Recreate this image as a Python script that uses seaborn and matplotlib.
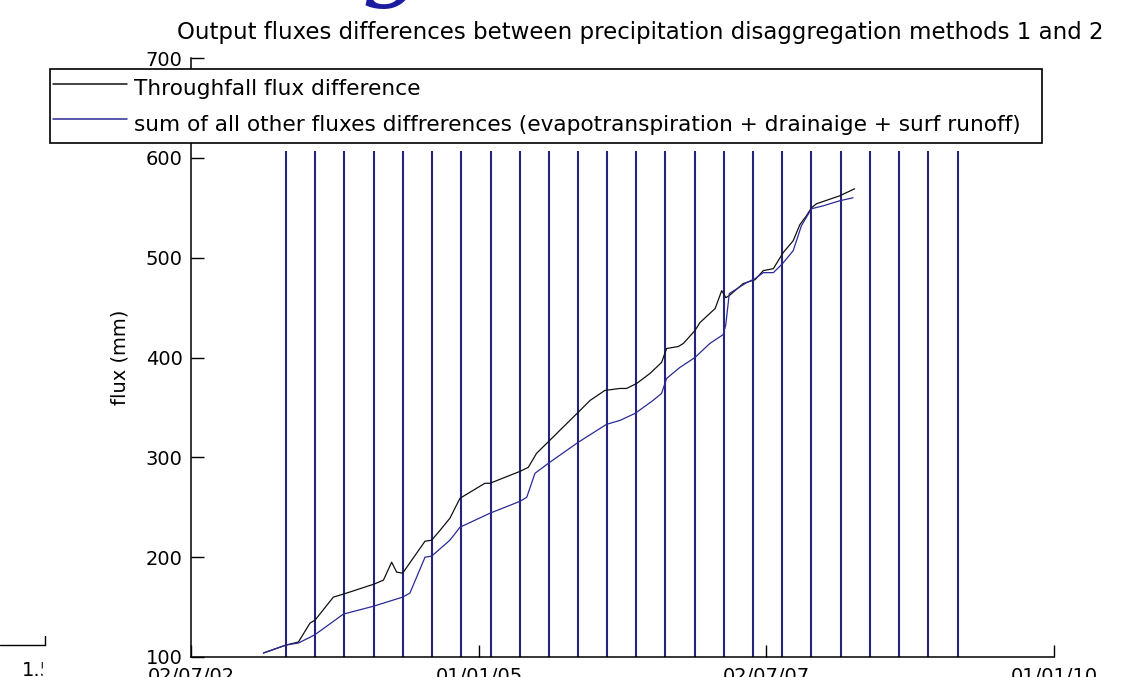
import matplotlib
matplotlib.use("Agg")
import matplotlib.pyplot as plt
import matplotlib.dates as mdates
from matplotlib.patches import Rectangle
import pandas as pd
import seaborn as sns

# ---- Data ----
THROUGH_DATES = [
    "2003-02-17", "2003-04-30", "2003-06-08", "2003-07-15", "2003-07-31",
    "2003-09-27", "2003-10-29", "2004-02-03", "2004-03-04", "2004-03-30",
    "2004-04-15", "2004-05-04", "2004-07-14", "2004-08-04", "2004-08-31",
    "2004-10-01", "2004-11-02", "2005-01-20", "2005-02-05", "2005-05-12",
    "2005-06-07", "2005-07-03", "2005-08-14", "2005-09-15", "2005-11-12",
    "2005-12-20", "2006-02-05", "2006-03-25", "2006-04-15", "2006-05-17",
    "2006-06-28", "2006-08-04", "2006-08-20", "2006-09-26", "2006-10-12",
    "2006-11-18", "2006-12-04", "2007-01-21", "2007-02-11", "2007-02-24",
    "2007-03-07", "2007-04-20", "2007-05-28", "2007-06-23", "2007-07-25",
    "2007-08-25", "2007-09-26", "2007-10-17", "2007-11-07", "2007-11-23",
    "2007-12-09", "2008-02-21", "2008-04-08",
]
THROUGH_FLUX = [
    104, 112, 115, 134, 137,
    160, 163, 173, 177, 195,
    185, 184, 216, 217, 227,
    239, 259, 274, 274, 286,
    290, 304, 317, 327, 345,
    357, 367, 369, 369, 374,
    384, 395, 409, 411, 414,
    427, 435, 449, 467, 460,
    462, 474, 478, 487, 489,
    505, 517, 533, 542, 550,
    554, 562, 569,
]

OTHER_DATES = [
    "2003-02-17", "2003-04-30", "2003-06-08", "2003-07-29", "2003-10-29",
    "2004-02-03", "2004-05-04", "2004-05-27", "2004-07-14", "2004-08-04",
    "2004-10-01", "2004-11-02", "2005-02-05", "2005-05-12", "2005-06-02",
    "2005-06-28", "2005-08-14", "2005-11-12", "2006-02-10", "2006-03-25",
    "2006-05-12", "2006-07-08", "2006-08-04", "2006-08-20", "2006-10-01",
    "2006-11-18", "2007-01-04", "2007-02-16", "2007-02-24", "2007-03-07",
    "2007-05-01", "2007-05-28", "2007-06-23", "2007-07-25", "2007-08-23",
    "2007-09-05", "2007-09-26", "2007-10-22", "2007-11-23", "2007-12-31",
    "2008-02-21", "2008-04-03",
]
OTHER_FLUX = [
    104, 112, 114, 122, 143,
    151, 160, 164, 200, 201,
    217, 230, 244, 256, 260,
    284, 295, 315, 333, 337,
    344, 357, 364, 379, 390,
    400, 414, 423, 433, 464,
    475, 479, 485, 485, 494,
    499, 507, 532, 549, 552,
    557, 560,
]

# vertical marker lines (roughly quarterly)
MARKER_DATES = [
    "2003-04-30", "2003-07-31", "2003-11-01", "2004-02-02", "2004-05-04",
    "2004-08-05", "2004-11-06", "2005-02-07", "2005-05-10", "2005-08-11",
    "2005-11-11", "2006-02-12", "2006-05-16", "2006-08-16", "2006-11-17",
    "2007-02-18", "2007-05-22", "2007-08-22", "2007-11-23", "2008-02-24",
    "2008-05-27", "2008-08-27", "2008-11-28", "2009-03-01",
]
MARKER_RANGE = [100, 607]

X_TICKS = ["2002-07-02", "2005-01-01", "2007-07-02", "2010-01-01"]
Y_TICKS = [100, 200, 300, 400, 500, 600, 700]

TITLE = ("Output fluxes differences between precipitation "
         "disaggregation methods 1 and 2")
LABEL_THROUGH = "Throughfall flux difference"
LABEL_OTHER = ("sum of all other fluxes diffrerences "
               "(evapotranspiration + drainaige + surf runoff)")

BLACK = "#111111"
BLUE = "#2a2a96"
NAVY = "#24247e"

W, H = 1124, 677

sns.set_style("ticks")
plt.rcParams["font.family"] = ["DejaVu Sans"]
plt.rcParams["text.color"] = "black"
plt.rcParams["axes.labelcolor"] = "black"

df = pd.concat([
    pd.DataFrame({"date": pd.to_datetime(THROUGH_DATES), "flux": THROUGH_FLUX,
                  "series": LABEL_THROUGH}),
    pd.DataFrame({"date": pd.to_datetime(OTHER_DATES), "flux": OTHER_FLUX,
                  "series": LABEL_OTHER}),
])

fig = plt.figure(figsize=(W / 100, H / 100), dpi=100)
ax = fig.add_axes([191 / W, 1 - 657 / H, (1054 - 191) / W, (657 - 58) / H])

ax.vlines(pd.to_datetime(MARKER_DATES), MARKER_RANGE[0], MARKER_RANGE[1],
          color=NAVY, lw=1.5, zorder=1)

sns.lineplot(data=df, x="date", y="flux", hue="series",
             palette={LABEL_THROUGH: BLACK, LABEL_OTHER: BLUE},
             estimator=None, sort=False, lw=0.9, legend=False, ax=ax, zorder=3)

xt = pd.to_datetime(X_TICKS)
ax.set_xlim(xt[0], xt[-1])
ax.set_ylim(Y_TICKS[0], Y_TICKS[-1])
ax.set_xticks(xt)
ax.set_yticks(Y_TICKS)
ax.xaxis.set_major_formatter(mdates.DateFormatter("%d/%m/%y"))
ax.tick_params(direction="in", length=9, width=1, labelsize=14, colors="black")
ax.tick_params(axis="x", pad=7)
ax.tick_params(axis="y", pad=6)
for s in ["top", "right"]:
    ax.spines[s].set_visible(False)
for s in ["left", "bottom"]:
    ax.spines[s].set_linewidth(1.1)
    ax.spines[s].set_color("black")
ax.set_xlabel("")
ax.set_ylabel("flux (mm)", fontsize=14, labelpad=12)

fig.text(640 / W, 1 - 33 / H, TITLE, ha="center", va="center", fontsize=16.5)

handles = [plt.Line2D([], [], color=BLACK, lw=1.1),
           plt.Line2D([], [], color=BLUE, lw=1.1)]
leg = fig.legend(handles, [LABEL_THROUGH, LABEL_OTHER],
                 loc="upper left",
                 bbox_to_anchor=(50 / W, 1 - 69 / H, (1042 - 50) / W, 0),
                 mode="expand", borderaxespad=0, fontsize=15.6,
                 handlelength=3.4, handleheight=1.9, handletextpad=0.35,
                 borderpad=0.15, labelspacing=0.15,
                 fancybox=False, framealpha=1)
leg.get_frame().set_edgecolor("black")
leg.get_frame().set_linewidth(1.2)

# stray fragments of other figures in the screenshot
fig.add_artist(plt.Line2D([0, 45 / W], [1 - 645 / H] * 2, color="black", lw=1,
                          transform=fig.transFigure))
fig.add_artist(plt.Line2D([45 / W] * 2, [1 - 645 / H, 1 - 636 / H],
                          color="black", lw=1, transform=fig.transFigure))
fig.text(22 / W, 1 - 671 / H, "1.5", ha="left", va="center", fontsize=14)
fig.add_artist(Rectangle((43 / W, 0), 97 / W, 1 - 652 / H,
                         transform=fig.transFigure, color="white", zorder=5))
fig.text(393 / W, 1 + 13 / H, "g", ha="center", va="baseline", fontsize=72,
         family="DejaVu Serif", style="italic", color="#1c1ca0")

fig.savefig("out.png", dpi=100)
